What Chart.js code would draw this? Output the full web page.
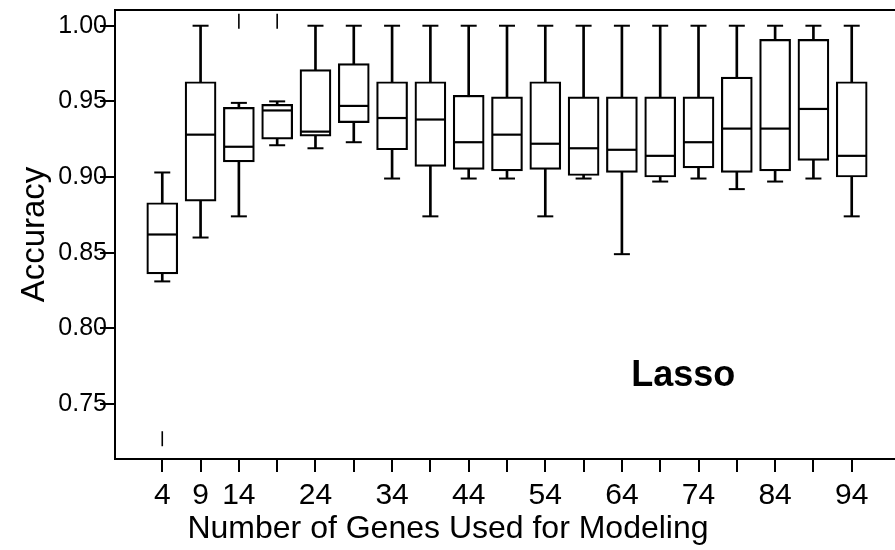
<!DOCTYPE html>
<html>
<head>
  <meta charset="utf-8">
  <title>Lasso accuracy by number of genes</title>
  <script src="https://cdn.jsdelivr.net/npm/chart.js"></script>
  <style>
    html, body { margin: 0; background: #fff; overflow: hidden; }
    #wrap { width: 895px; height: 550px; }
    canvas { display: block; }
  </style>
</head>
<body>
<div id="wrap"><canvas id="chartLasso"></canvas></div>
<script>
  // data
  const genes       = [4, 9, 14, 19, 24, 29, 34, 39, 44, 49, 54, 59, 64, 69, 74, 79, 84, 89, 94];
  const whiskerLow  = [0.831, 0.860, 0.874, 0.921, 0.919, 0.923, 0.899, 0.874, 0.899, 0.899, 0.874, 0.899, 0.849, 0.897, 0.899, 0.892, 0.897, 0.899, 0.874];
  const q1          = [0.836, 0.884, 0.910, 0.925, 0.927, 0.936, 0.918, 0.907, 0.905, 0.904, 0.905, 0.901, 0.903, 0.900, 0.906, 0.903, 0.904, 0.911, 0.900];
  const median      = [0.862, 0.928, 0.920, 0.944, 0.930, 0.947, 0.939, 0.938, 0.923, 0.928, 0.922, 0.919, 0.918, 0.914, 0.923, 0.932, 0.932, 0.945, 0.914];
  const q3          = [0.883, 0.963, 0.946, 0.948, 0.971, 0.975, 0.963, 0.963, 0.954, 0.953, 0.963, 0.953, 0.953, 0.953, 0.953, 0.966, 0.991, 0.991, 0.963];
  const whiskerHigh = [0.903, 1.000, 0.949, 0.950, 1.000, 1.000, 1.000, 1.000, 1.000, 1.000, 1.000, 1.000, 1.000, 1.000, 1.000, 1.000, 1.000, 1.000, 1.000];
  const outlierX    = [4, 14, 19];
  const outlierY    = [0.727, 1.003, 1.003];
  const xLabelled   = [4, 9, 14, 24, 34, 44, 54, 64, 74, 84, 94];
  const yTicks      = [0.75, 0.80, 0.85, 0.90, 0.95, 1.00];
  const panelLabel  = 'Lasso';
  const xTitle      = 'Number of Genes Used for Modeling';
  const yTitle      = 'Accuracy';

  const FONT = '"Liberation Sans", Arial, Helvetica, sans-serif';

  // top frame line, panel label and x title
  const extras = {
    id: 'extras',
    afterDraw(chart) {
      const { ctx, chartArea, scales: { x, y } } = chart;
      ctx.save();
      ctx.strokeStyle = '#000';
      ctx.lineWidth = 2;
      ctx.beginPath();
      ctx.moveTo(chartArea.left - 1, chartArea.top);
      ctx.lineTo(chartArea.right, chartArea.top);
      ctx.stroke();

      ctx.fillStyle = '#000';
      ctx.textAlign = 'center';
      ctx.textBaseline = 'alphabetic';
      ctx.font = 'bold 36px ' + FONT;
      ctx.fillText(panelLabel, x.getPixelForValue(72), y.getPixelForValue(0.762));

      ctx.font = '32px ' + FONT;
      ctx.fillText(xTitle, x.getPixelForValue(41.3), chart.height - 12);
      ctx.restore();
    }
  };

  const ctx = document.getElementById('chartLasso').getContext('2d');
  new Chart(ctx, {
    type: 'bar',
    data: {
      datasets: [
        {
          // whisker stems, hidden behind the boxes
          type: 'bar',
          data: genes.map((g, i) => ({ x: g, y: [whiskerLow[i], whiskerHigh[i]] })),
          backgroundColor: '#000',
          borderWidth: 0,
          barThickness: 2,
          grouped: false,
          order: 3
        },
        {
          // boxes q1..q3
          type: 'bar',
          data: genes.map((g, i) => ({ x: g, y: [q1[i], q3[i]] })),
          backgroundColor: '#fff',
          borderColor: '#000',
          borderWidth: 2.2,
          borderSkipped: false,
          barThickness: 31,
          grouped: false,
          order: 2
        },
        {
          // medians
          type: 'scatter',
          data: genes.map((g, i) => ({ x: g, y: median[i] })),
          pointStyle: 'line',
          pointRadius: 14.5,
          pointBorderWidth: 2.2,
          borderColor: '#000',
          order: 1
        },
        {
          // whisker caps
          type: 'scatter',
          data: genes.map((g, i) => ({ x: g, y: whiskerLow[i] }))
            .concat(genes.map((g, i) => ({ x: g, y: whiskerHigh[i] }))),
          pointStyle: 'line',
          pointRadius: 8,
          pointBorderWidth: 2,
          borderColor: '#000',
          order: 1
        },
        {
          // outliers drawn as "|"
          type: 'scatter',
          data: outlierX.map((g, i) => ({ x: g, y: outlierY[i] })),
          pointStyle: 'line',
          rotation: 90,
          pointRadius: 7.5,
          pointBorderWidth: 1.6,
          borderColor: '#000',
          order: 1
        }
      ]
    },
    options: {
      responsive: true,
      maintainAspectRatio: false,
      animation: false,
      events: [],
      layout: { autoPadding: false, padding: { top: 10, right: 0, bottom: 0, left: 0 } },
      plugins: {
        legend: { display: false },
        tooltip: { enabled: false }
      },
      scales: {
        x: {
          type: 'linear',
          offset: false,
          min: -2.17,
          max: 99.65,
          afterBuildTicks: (axis) => { axis.ticks = genes.map(v => ({ value: v })); },
          afterFit: (axis) => {
            axis.height = 91;
            axis.paddingLeft = 0;
            axis.paddingRight = 0;
          },
          ticks: {
            autoSkip: false,
            maxRotation: 0,
            padding: 6,
            color: '#000',
            font: { family: FONT, size: 30 },
            callback: (v) => xLabelled.includes(v) ? String(v) : ''
          },
          grid: { offset: false, drawOnChartArea: false, drawTicks: true, tickLength: 13, color: '#000', lineWidth: 2 },
          border: { display: true, color: '#000', width: 2 }
        },
        y: {
          min: 0.7136,
          max: 1.0104,
          afterBuildTicks: (axis) => { axis.ticks = yTicks.map(v => ({ value: v })); },
          afterFit: (axis) => { axis.width = 115; },
          ticks: {
            padding: -7,
            color: '#000',
            font: { family: FONT, size: 25 },
            callback: (v) => v.toFixed(2)
          },
          grid: { drawOnChartArea: false, drawTicks: true, tickLength: 15, color: '#000', lineWidth: 2 },
          border: { display: true, color: '#000', width: 2 },
          title: {
            display: true,
            text: yTitle,
            color: '#000',
            font: { family: FONT, size: 33 },
            padding: { top: 15, bottom: 0 }
          }
        }
      }
    },
    plugins: [extras]
  });
</script>
</body>
</html>
